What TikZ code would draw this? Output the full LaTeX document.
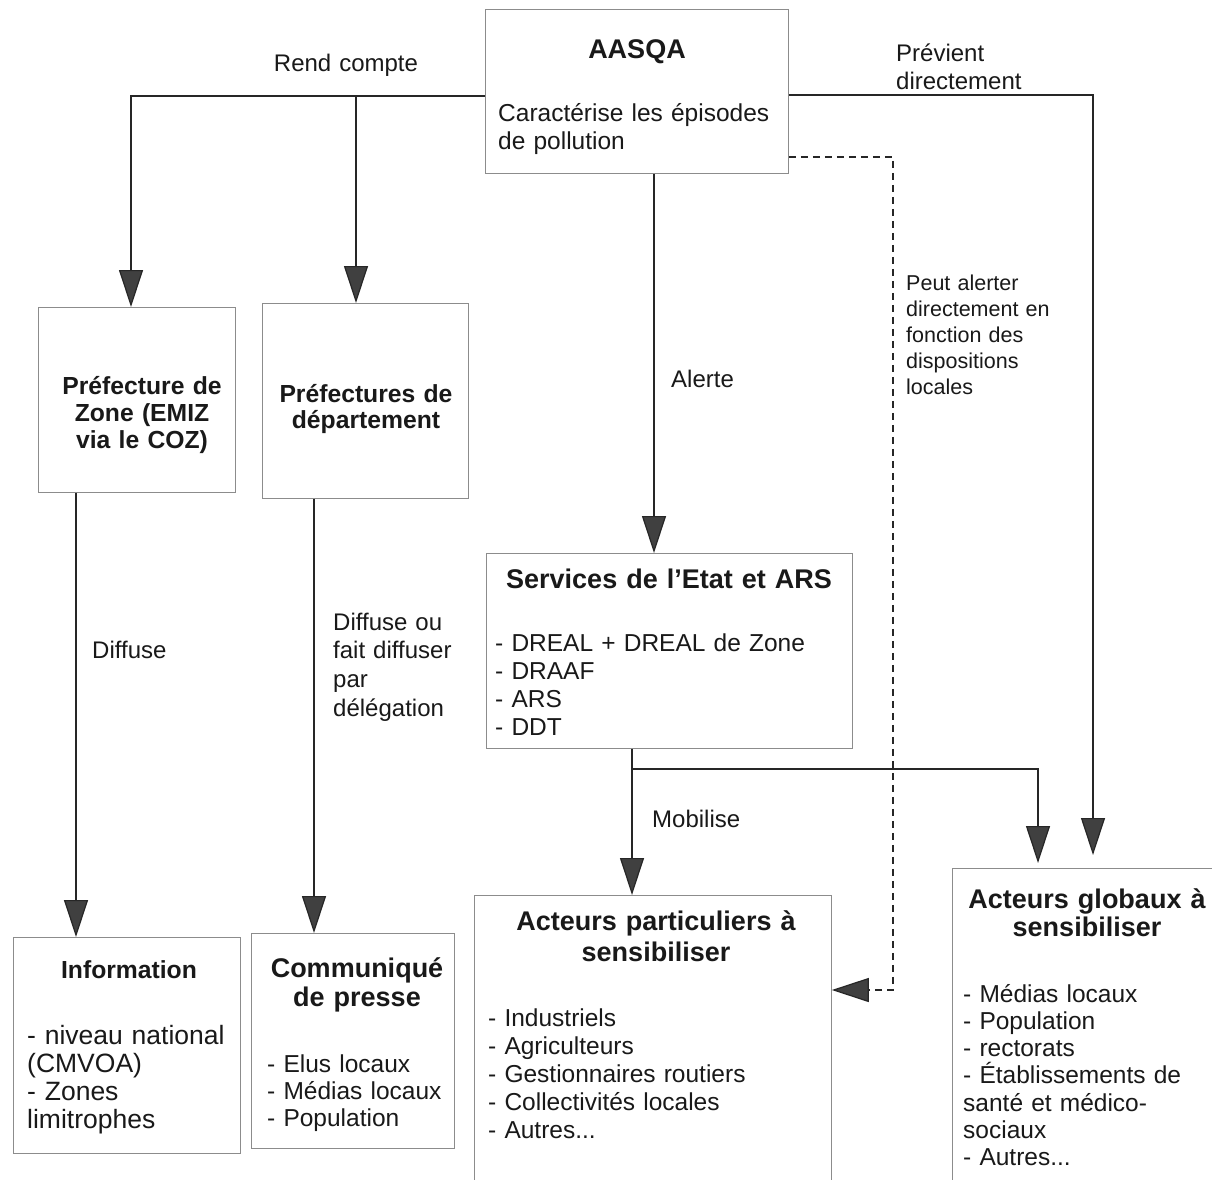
\documentclass[tikz,border=0pt]{standalone}
\usepackage{fontspec}
\setmainfont{Liberation Sans}[WordSpace={1.2,1,1}]
\usetikzlibrary{arrows.meta}
\newcommand\fsBody{\fontsize{24.5}{28}\selectfont}
\newcommand\fsLab{\fontsize{24}{28.5}\selectfont}
\newcommand\fsSmall{\fontsize{21.5}{26}\selectfont}
\newcommand\fsTitle{\fontsize{27}{31}\selectfont\bfseries}
\newcommand\fsPref{\fontsize{24.7}{27}\selectfont\bfseries}
\begin{document}
\begin{tikzpicture}[x=1pt,y=-1pt,
  box/.style={draw=black!45, line width=0.8pt, inner sep=0pt, anchor=north west},
  txt/.style={inner sep=0pt, text=black!90},
  lft/.style={txt, anchor=base west, align=left, text width=#1},
  ctr/.style={txt, anchor=base, align=center, text width=#1},
  conn/.style={draw=black!85, line width=1.2pt, -{Triangle[length=37pt,width=24pt,fill=black!75]}},
  dconn/.style={conn, dash pattern=on 7pt off 5pt}]
\useasboundingbox[fill=white] (0,0) rectangle (1212,1179);

% boxes
\node[box, minimum width=303pt, minimum height=164pt] (aasqa) at (485,9) {};
\node[box, minimum width=197pt, minimum height=185pt] (pz) at (38,307) {};
\node[box, minimum width=206pt, minimum height=195pt] (pd) at (262,303) {};
\node[box, minimum width=366pt, minimum height=195pt] (serv) at (486,553) {};
\node[box, minimum width=227pt, minimum height=216pt] (info) at (13,937) {};
\node[box, minimum width=203pt, minimum height=215pt] (comm) at (251,933) {};
\node[box, minimum width=357pt, minimum height=300pt] (part) at (474,895) {};
\node[box, minimum width=270pt, minimum height=320pt] (glob) at (952,868) {};

% texts
\node[ctr=300pt, font=\fsTitle] (tA) at (637,58) {AASQA};
\node[lft=285pt, font=\fsBody] (tAb) at (498,121) {Caractérise les épisodes\\de pollution};
\node[ctr=200pt, font=\fsLab] (lRend) at (346,71) {Rend compte};
\node[lft=200pt, font=\fsLab] (lPrev) at (896,61) {Prévient\\directement};
\node[lft=170pt, font=\fsSmall] (lPeut) at (906,290) {Peut alerter\\directement en\\fonction des\\dispositions\\locales};
\node[lft=100pt, font=\fsLab] (lAl) at (671,387) {Alerte};
\node[ctr=190pt, font=\fsPref] (tPz) at (142,394) {Préfecture de\\Zone (EMIZ\\via le COZ)};
\node[ctr=200pt, font={\fontsize{24.7}{26}\selectfont\bfseries}] (tPd) at (366,402) {Préfectures de\\département};
\node[lft=100pt, font=\fsLab] (lDif) at (92,658) {Diffuse};
\node[lft=140pt, font={\fontsize{24}{28.7}\selectfont}] (lDif2) at (333,630) {Diffuse ou\\fait diffuser\\par\\délégation};
\node[ctr=360pt, font=\fsTitle] (tS) at (669,588) {Services de l’Etat et ARS};
\node[lft=355pt, font={\fontsize{24.5}{28.3}\selectfont}] (tSb) at (495,651) {- DREAL + DREAL de Zone\\- DRAAF\\- ARS\\- DDT};
\node[lft=100pt, font=\fsLab] (lMob) at (652,827) {Mobilise};
\node[ctr=220pt, font=\fsPref] (tI) at (129,978) {Information};
\node[lft=220pt, font={\fontsize{26.5}{28}\selectfont}] (tIb) at (27,1044) {- niveau national\\(CMVOA)\\- Zones\\limitrophes};
\node[ctr=200pt, font={\fontsize{27}{29.5}\selectfont\bfseries}] (tC) at (357,977) {Communiqué\\de presse};
\node[lft=195pt, font={\fontsize{24.5}{27}\selectfont}] (tCb) at (267,1072) {- Elus locaux\\- Médias locaux\\- Population};
\node[ctr=360pt, font=\fsTitle] (tP) at (656,930) {Acteurs particuliers à\\sensibiliser};
\node[lft=340pt, font=\fsBody] (tPb) at (488,1026) {- Industriels\\- Agriculteurs\\- Gestionnaires routiers\\- Collectivités locales\\- Autres...};
\node[ctr=260pt, font={\fontsize{27}{28}\selectfont\bfseries}] (tG) at (1087,908) {Acteurs globaux à\\sensibiliser};
\node[lft=250pt, font={\fontsize{24.5}{27.3}\selectfont}] (tGb) at (963,1002) {- Médias locaux\\- Population\\- rectorats\\- Établissements de\\santé et médico-\\sociaux\\- Autres...};

% connectors
\coordinate (j0) at (131,96);
\coordinate (j1) at (356,96);
\coordinate (j2) at (1093,95);
\coordinate (d1) at (893,157);
\coordinate (d2) at (893,990);
\coordinate (a1) at (654,0);
\coordinate (f1) at (76,0);
\coordinate (f2) at (314,0);
\coordinate (m1) at (632,769);
\coordinate (m2) at (1038,769);

\draw[conn] (aasqa.west |- j0) -- (j0) -- (j0 |- pz.north);
\draw[conn] (j1) -- (j1 |- pd.north);
\draw[conn] (aasqa.east |- j2) -- (j2) -- ([yshift=13pt]j2 |- glob.north);
\draw[dconn] (aasqa.east |- d1) -- (d1) -- (d2) -- (part.east |- d2);
\draw[conn] (aasqa.south -| a1) -- (serv.north -| a1);
\draw[conn] (pz.south -| f1) -- (info.north -| f1);
\draw[conn] (pd.south -| f2) -- (comm.north -| f2);
\draw[conn] (serv.south -| m1) -- (part.north -| m1);
\draw[conn] (m1) -- (m2) -- ([yshift=5pt]m2 |- glob.north);
\end{tikzpicture}
\end{document}
